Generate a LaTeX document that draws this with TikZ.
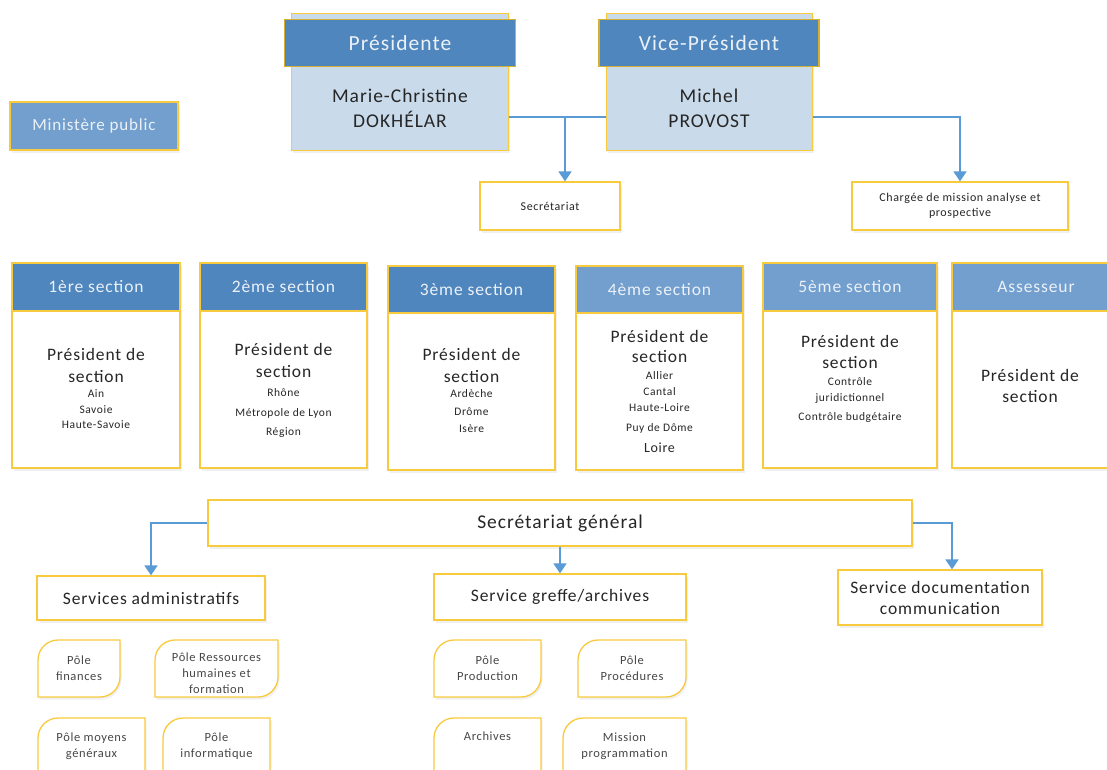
\documentclass[tikz,border=0pt]{standalone}
\usepackage{fontspec}
\setmainfont{Carlito}[LetterSpace=5]
\usetikzlibrary{arrows.meta,calc,shadows}
\definecolor{dhead}{RGB}{79,134,190}
\definecolor{lhead}{RGB}{114,159,206}
\definecolor{pale}{RGB}{201,218,234}
\definecolor{gold}{RGB}{248,202,62}
\definecolor{dgold}{RGB}{214,176,48}
\definecolor{arr}{RGB}{91,155,213}
\definecolor{txt}{RGB}{38,38,38}
\definecolor{htxt}{RGB}{236,241,248}
\newcommand\fs[2]{\fontsize{#1}{#2}\selectfont}
\newcommand\leafbox[6]{%
  \draw[leafst] (#1,#4) -- (#1,{#2+20}) .. controls (#1,{#2+9}) and ({#1+9},#2) .. ({#1+20},#2)
     -- (#3,#2) -- (#3,{#4-20}) .. controls (#3,{#4-9}) and ({#3-9},#4) .. ({#3-20},#4) -- cycle;
  \node[leaftxt] (#5) at ({(#1+#3)/2},{(#2+#4)/2}) {#6};}
\begin{document}
\begin{tikzpicture}[x=1pt,y=-1pt,
  shad/.style={drop shadow={opacity=0.12,shadow xshift=1.5pt,shadow yshift=-2.5pt}},
  box/.style={draw=gold,line width=1.3pt,fill=white,inner sep=0pt,align=center,text=txt,shad},
  back/.style={draw=gold,line width=1pt,fill=pale,inner sep=0pt,shad},
  head/.style={draw=dgold,line width=1.3pt,inner sep=0pt,text=htxt,font=\fs{21.5}{25}},
  shead/.style={draw=gold,line width=1.2pt,inner sep=0pt,text=htxt,font=\fs{17.5}{20}},
  txtn/.style={inner sep=0pt,align=center,text=txt},
  conn/.style={draw=arr,line width=1.8pt},
  arrow/.style={conn,-{Triangle[width=13pt,length=10pt]}},
  leafst/.style={draw=gold,line width=1.3pt,fill=white,shad},
  leaftxt/.style={inner sep=0pt,align=center,text=txt!85,font=\fs{12.5}{16}}
]
\useasboundingbox (0,0) rectangle (1107,769);
\clip (0,0) rectangle (1107,769);

% Ministere public
\node[draw=gold,line width=1.3pt,fill=lhead,text=htxt,font=\fs{17}{20},minimum width=168,minimum height=48,inner sep=0pt,shad] (mp) at (94,126) {Ministère public};

% Presidente
\node[back,minimum width=217,minimum height=137] (presb) at (400,82) {};
\node[head,fill=dhead,minimum width=231,minimum height=47] (presh) at (400,43) {Présidente};
\node[txtn,font=\fs{19.5}{25}] (prest) at (400,108) {Marie-Christine\\DOKHÉLAR};

% Vice-President
\node[back,minimum width=206,minimum height=137] (vpb) at (709,82) {};
\node[head,fill=dhead,minimum width=220,minimum height=47] (vph) at (709,43) {Vice-Président};
\node[txtn,font=\fs{19.5}{25}] (vpt) at (709,108) {Michel\\PROVOST};

% Secretariat / Chargee
\node[box,font=\fs{12}{15},minimum width=140,minimum height=48] (sec) at (550,206) {Secrétariat};
\node[box,font=\fs{12}{15},minimum width=216,minimum height=48] (cha) at (960,206) {Chargée de mission analyse et\\prospective};

\coordinate (j1) at (565,117);
\coordinate (j2) at (960,117);
\draw[conn] (presb.east |- j1) -- (vpb.west |- j1);
\draw[arrow] (j1) -- (sec.north -| j1);
\draw[arrow] (vpb.east |- j2) -- (j2) -- (cha.north);

% Sections
\node[box,minimum width=168,minimum height=205] (s1) at (96,365.5) {};
\node[shead,fill=dhead,minimum width=168,minimum height=48,anchor=north] (s1h) at (s1.north) {1ère section};
\node[txtn,font=\fs{17.5}{22}] (s1t) at (96,365) {Président de\\section};
\node[txtn,font=\fs{11.5}{15.5},anchor=north] (s1s) at (96,389.5) {Ain\\Savoie\\Haute-Savoie};

\node[box,minimum width=167,minimum height=205] (s2) at (283.5,365.5) {};
\node[shead,fill=dhead,minimum width=167,minimum height=48,anchor=north] (s2h) at (s2.north) {2ème section};
\node[txtn,font=\fs{17.5}{22}] (s2t) at (283.5,360) {Président de\\section};
\node[txtn,font=\fs{11.5}{19.5},anchor=north] (s2s) at (283.5,388.5) {Rhône\\Métropole de Lyon\\Région};

\node[box,minimum width=167,minimum height=204] (s3) at (471.5,368) {};
\node[shead,fill=dhead,minimum width=167,minimum height=47,anchor=north] (s3h) at (s3.north) {3ème section};
\node[txtn,font=\fs{17.5}{22}] (s3t) at (471.5,365) {Président de\\section};
\node[txtn,font=\fs{11.5}{17.5},anchor=north] (s3s) at (471.5,389.5) {Ardèche\\Drôme\\Isère};

\node[box,minimum width=167,minimum height=204] (s4) at (659.5,368) {};
\node[shead,fill=lhead,minimum width=167,minimum height=47,anchor=north] (s4h) at (s4.north) {4ème section};
\node[txtn,font=\fs{17.5}{20}] (s4t) at (659.5,346) {Président de\\section};
\node[txtn,font=\fs{11.5}{16},anchor=north] (s4s) at (659.5,371.5) {Allier\\Cantal\\Haute-Loire\\[4pt]Puy de Dôme};
\node[txtn,font=\fs{14}{16}] (s4l) at (659.5,448) {Loire};

\node[box,minimum width=174,minimum height=205] (s5) at (850,365.5) {};
\node[shead,fill=lhead,minimum width=174,minimum height=48,anchor=north] (s5h) at (s5.north) {5ème section};
\node[txtn,font=\fs{17.5}{21}] (s5t) at (850,351.5) {Président de\\section};
\node[txtn,font=\fs{11.5}{16},anchor=north] (s5s) at (850,377.5) {Contrôle\\juridictionnel\\[3pt]Contrôle budgétaire};

\node[box,minimum width=168,minimum height=205] (s6) at (1036,365.5) {};
\node[shead,fill=lhead,minimum width=168,minimum height=48,anchor=north] (s6h) at (s6.north) {Assesseur};
\node[txtn,font=\fs{17.5}{21}] (s6t) at (1030,385.5) {Président de\\section};

% Secretariat general
\node[box,font=\fs{19.5}{22},minimum width=704,minimum height=46] (sg) at (560,523) {Secrétariat général};
\node[box,font=\fs{17.5}{20},minimum width=228,minimum height=44] (sa) at (151,598) {Services administratifs};
\node[box,font=\fs{17.5}{20},minimum width=252,minimum height=46] (sgr) at (560,597) {Service greffe/archives};
\node[box,font=\fs{17.5}{21},minimum width=204,minimum height=55] (sd) at (940,597.5) {Service documentation\\communication};

\draw[arrow] (sg.west) -| (sa.north);
\draw[arrow] (sg.south) -- (sgr.north);
\draw[arrow] (sg.east) -| ([xshift=12pt]sd.north);

% Poles
\leafbox{38}{640}{120}{697}{pf}{Pôle\\finances}
\leafbox{155}{640}{278}{697}{prh}{}
\node[leaftxt] (prht) at (216.5,673) {Pôle Ressources\\humaines et\\formation};
\leafbox{38}{718}{145}{790}{pmg}{}
\node[leaftxt] (pmgt) at (91.5,746) {Pôle moyens\\généraux};
\leafbox{163}{718}{270}{790}{pin}{}
\node[leaftxt] (pint) at (216.5,746) {Pôle\\informatique};
\leafbox{434}{640}{541}{697}{ppr}{Pôle\\Production}
\leafbox{578}{640}{686}{697}{ppc}{Pôle\\Procédures}
\leafbox{434}{718}{541}{790}{par}{}
\node[leaftxt] (part) at (487.5,736) {Archives};
\leafbox{563}{718}{686}{790}{pmp}{}
\node[leaftxt] (pmpt) at (624.5,746) {Mission\\programmation};
\end{tikzpicture}
\end{document}
